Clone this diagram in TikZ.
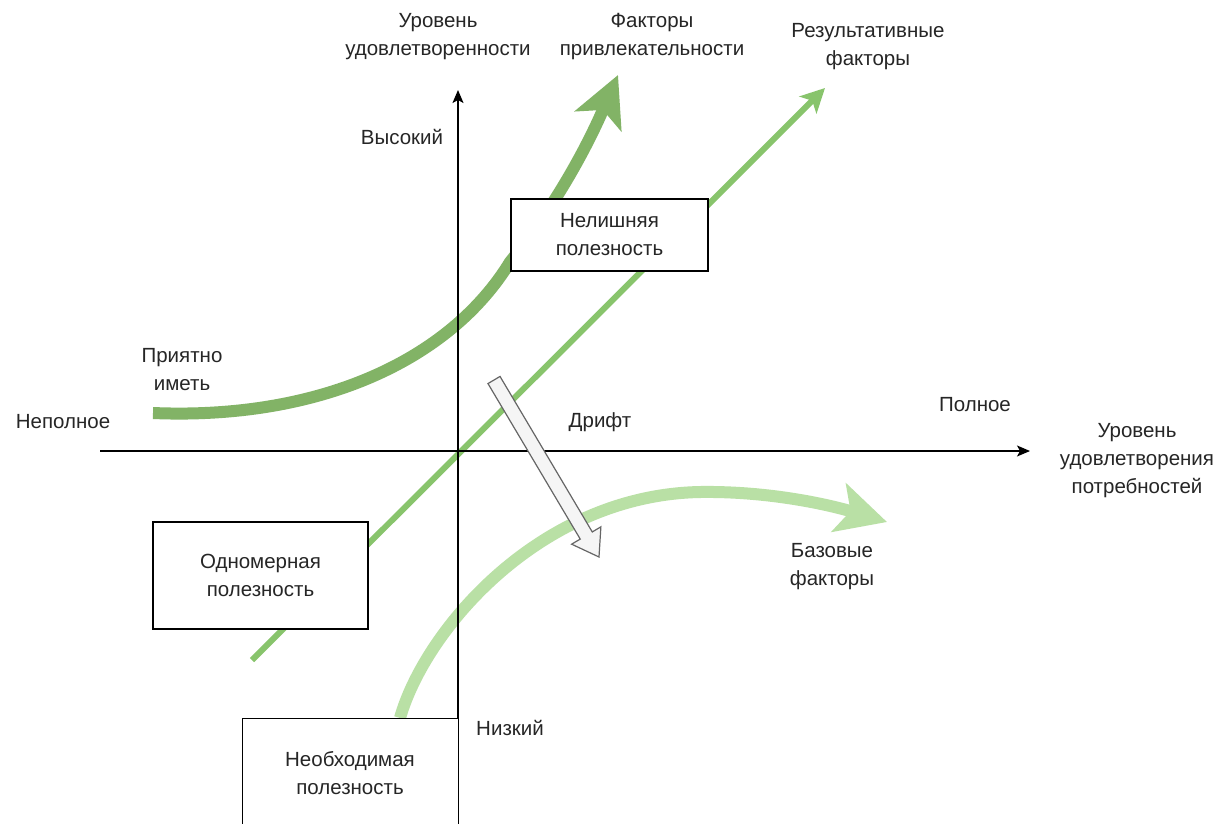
\documentclass[tikz,border=0pt]{standalone}
\usepackage{fontspec}
\setmainfont{Liberation Sans}
\usetikzlibrary{arrows.meta}
\definecolor{attrgreen}{HTML}{82B366}
\definecolor{perfgreen}{HTML}{88C46C}
\definecolor{basegreen}{HTML}{B9E0A5}
\definecolor{txt}{HTML}{262626}
\definecolor{driftfill}{HTML}{F5F5F5}
\definecolor{driftdraw}{HTML}{666666}
\tikzset{
  lbl/.style={align=center, inner sep=0pt, text=txt, font=\fontsize{20.5}{28}\selectfont},
  box/.style={draw=black, line width=1.3pt, fill=white, align=center, inner sep=0pt, text=txt, font=\fontsize{20.5}{28}\selectfont},
  axis/.style={draw=black, line width=1.3pt, -{Stealth[length=13pt,width=11pt,inset=3pt]}},
  attr/.style={draw=attrgreen, line width=12pt, -{Stealth[length=50pt,width=50pt,inset=12pt]}},
  perf/.style={draw=perfgreen, line width=6pt, -{Stealth[length=24pt,width=24pt,inset=6pt]}},
  basic/.style={draw=basegreen, line width=12pt, -{Stealth[length=50pt,width=50pt,inset=12pt]}},
  drift/.style={fill=driftfill, draw=driftdraw, line width=1.2pt, line join=miter}
}
\begin{document}
\begin{tikzpicture}[x=1pt,y=-1pt]
\clip (0,0) rectangle (1227,823);
\fill[white] (0,0) rectangle (1227,823);
% coordinates
\coordinate (a0) at (153,413);
\coordinate (a1) at (618,75);
\coordinate (b0) at (400,718);
\coordinate (b1) at (887,522);
\coordinate (p0) at (252,660);
\coordinate (p1) at (825,88);
\coordinate (yb) at (458,830);
\coordinate (yt) at (458,90);
\coordinate (xl) at (100,451);
\coordinate (xr) at (1030,451);
% curves
\draw[attr] (a0) .. controls (320,420) and (450,360) .. (510,262) .. controls (560,200) and (590,140) .. (a1);
\draw[perf] (p0) -- (p1);
\draw[basic] (b0) .. controls (425,630) and (540,495) .. (700,492) .. controls (770,491) and (830,505) .. (b1);
% axes
\draw[axis] (yb) -- (yt);
\draw[axis] (xl) -- (xr);
% drift arrow
\draw[drift] (487.98,383.57) -- (580.23,539.07) -- (571.63,544.17) -- (599,557) -- (600.87,526.83) -- (592.27,531.93) -- (500.02,376.43) -- cycle;
% boxes
\node[box, minimum width=197pt, minimum height=72pt] (nel) at (609.5,235) {Нелишняя\\полезность};
\node[box, minimum width=215pt, minimum height=107pt] (odn) at (260.5,575.5) {Одномерная\\полезность};
\node[box, minimum width=216pt, minimum height=130pt, anchor=north west] (neo) at (242,718) {};
\node[lbl] (neot) at (350,773) {Необходимая\\полезность};
% labels
\node[lbl] (ly) at (438,37) {Уровень\\удовлетворенности};
\node[lbl] (lfp) at (652,37) {Факторы\\привлекательности};
\node[lbl] (lrf) at (868,47) {Результативные\\факторы};
\node[lbl] (lhi) at (402,137) {Высокий};
\node[lbl] (lpr) at (182,370) {Приятно\\иметь};
\node[lbl] (lnp) at (63,422) {Неполное};
\node[lbl] (lpo) at (975,405) {Полное};
\node[lbl] (ldr) at (600,422) {Дрифт};
\node[lbl] (lx) at (1137,461) {Уровень\\удовлетворения\\потребностей};
\node[lbl] (lbf) at (832,567) {Базовые\\факторы};
\node[lbl] (llo) at (510,728) {Низкий};
\end{tikzpicture}
\end{document}
